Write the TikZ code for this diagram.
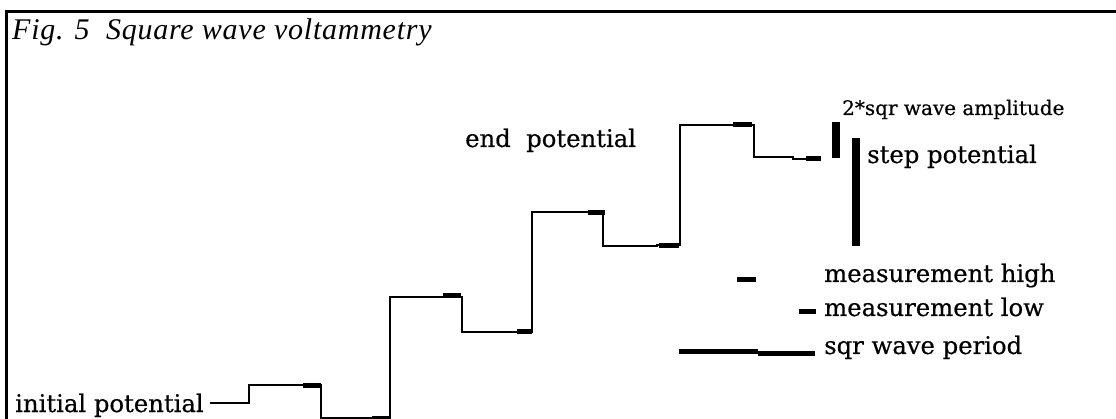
\documentclass[tikz,border=0pt]{standalone}
\usepackage{fontspec}
\setmainfont{Liberation Serif}
\newfontfamily\lblfont[FakeBold=0.5]{DejaVu Serif}
\begin{document}
\begin{tikzpicture}[x=1pt,y=-1pt,
  frameline/.style={line width=3pt},
  wave/.style={line width=2pt},
  blk/.style={fill=black},
  lbl/.style={anchor=base west,inner sep=0pt,font=\lblfont\fontsize{24.3}{28}\selectfont},
  smalllbl/.style={anchor=base west,inner sep=0pt,font=\lblfont\fontsize{20}{24}\selectfont}]
\useasboundingbox (0,0) rectangle (1116,419);

% frame (open at right and bottom)
\draw[frameline] (6.5,419) -- (6.5,11.3) -- (1116,11.3);

% title
\node[anchor=base west,inner sep=0pt,font=\itshape\addfontfeatures{LetterSpace=2.5}\fontsize{30}{34}\selectfont] (title) at (12,40) {Fig. 5\ \ Square wave voltammetry};

% labels
\node[lbl] (init) at (15,412) {initial potential};
\node[lbl] (endp) at (465,147) {end\ \ potential};
\node[smalllbl] (amp) at (842,115) {2*sqr wave amplitude};
\node[lbl] (stepp) at (867,163) {step potential};
\node[lbl] (mhigh) at (824,282) {measurement high};
\node[lbl] (mlow) at (824,316) {measurement low};
\node[lbl] (period) at (824,354) {sqr wave period};

% potential waveform
\coordinate (w0) at (210,403);
\draw[wave] (w0) -- (249,403) -- (249,385) -- (321,385) -- (321,418)
  -- (390,418) -- (390,297) -- (462,297) -- (462,332) -- (532,332)
  -- (532,212) -- (603,212) -- (603,246) -- (657,246) -- (657,245) -- (680,245)
  -- (680,125) -- (754,125) -- (754,157) -- (793,157) -- (793,159) -- (821,159);

% current sampling blocks, high half-cycles
\fill[blk] (303,382.5) rectangle (321,387.5);
\fill[blk] (443,293) rectangle (461,298);
\fill[blk] (588,210.5) rectangle (605,215.5);
\fill[blk] (733,122.5) rectangle (752,127.5);
% current sampling blocks, low half-cycles
\fill[blk] (372,415.5) rectangle (390,420.5);
\fill[blk] (517,329.5) rectangle (532,334.5);
\fill[blk] (659,243) rectangle (679,248);
\fill[blk] (806,156.5) rectangle (821,161.5);

% legend bars
\fill[blk] (832,122) rectangle (840,158);
\fill[blk] (852,138) rectangle (860,246);
\fill[blk] (737,277) rectangle (756,282);
\fill[blk] (799,309) rectangle (816,314);
\fill[blk] (679,349) rectangle (758,354);
\fill[blk] (758,351.5) rectangle (815,356.5);
\end{tikzpicture}
\end{document}
